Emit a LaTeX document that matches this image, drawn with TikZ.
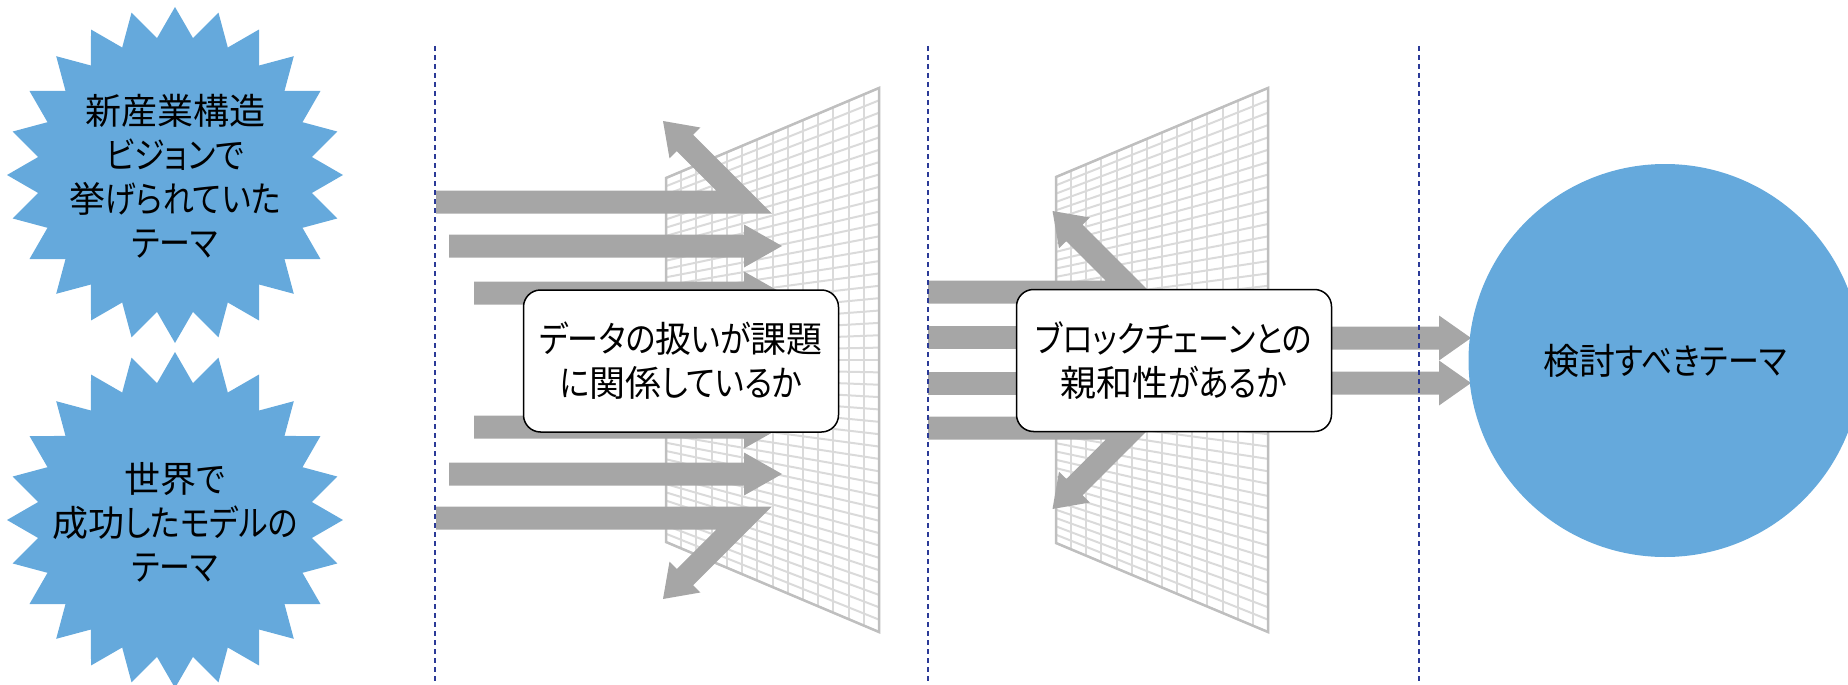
\documentclass[tikz,border=0pt]{standalone}
\usepackage{fontspec}
\setmainfont{Noto Sans CJK JP}[RawFeature=+palt]
\definecolor{burstblue}{HTML}{65A9DC}
\definecolor{arrowgray}{HTML}{A6A6A6}
\definecolor{meshin}{HTML}{DADADA}
\definecolor{meshout}{HTML}{BFBFBF}
\definecolor{sepblue}{HTML}{2B3A97}
\newcommand\kn[1]{\scalebox{0.86}[1]{#1}}
\newcommand\blockarrow[5]{% x0, head base, tip, centre y, head half width
  \fill[arrowgray] (#1,{#4-11.5}) -- (#2,{#4-11.5}) -- (#2,{#4-#5}) -- (#3,#4)
    -- (#2,{#4+#5}) -- (#2,{#4+11.5}) -- (#1,{#4+11.5}) -- cycle;}
\newcommand\meshwall[6]{% xl, xr, ytl, ybl, ytr, ybr
  \foreach \i in {0,...,14} {
    \draw[meshinner] ({#1+\i/14*(#2-#1)},{#3+\i/14*(#5-#3)}) -- ({#1+\i/14*(#2-#1)},{#4+\i/14*(#6-#4)});
  }
  \foreach \j in {0,...,44} {
    \draw[meshinner] (#1,{#3+\j/44*(#4-#3)}) -- (#2,{#5+\j/44*(#6-#5)});
  }
  \draw[meshborder] (#1,#3) -- (#2,#5) -- (#2,#6) -- (#1,#4) -- cycle;}
\begin{document}
\begin{tikzpicture}[x=1pt,y=-1pt,
  jtext/.style={font=\fontsize{36}{44}\selectfont, align=center, text=black},
  bursttext/.style={jtext, inner sep=0pt},
  filterbox/.style={jtext, draw=black, line width=1.5pt, fill=white, rounded corners=17pt,
     minimum width=315pt, minimum height=142pt, inner sep=0pt},
  goalcircle/.style={jtext, circle, fill=burstblue, minimum size=393pt, inner sep=0pt},
  meshinner/.style={draw=meshin, line width=2pt},
  meshborder/.style={draw=meshout, line width=2.5pt, line join=miter},
  sepline/.style={draw=sepblue, line width=2pt, dash pattern=on 5pt off 4pt}]
\useasboundingbox (0,0) rectangle (1848,685);
\clip (0,0) rectangle (1848,685);

% starbursts
\fill[burstblue] plot[samples at={0,...,47}, variable=\k]
  ({175+(168-30*mod(\k,2))*cos(90+7.5*\k)},{175-(168-30*mod(\k,2))*sin(90+7.5*\k)}) -- cycle;
\fill[burstblue] plot[samples at={0,...,47}, variable=\k]
  ({175+(168-30*mod(\k,2))*cos(90+7.5*\k)},{520-(168-30*mod(\k,2))*sin(90+7.5*\k)}) -- cycle;
\node[bursttext] (b1) at (175,176) {新産業構造\\\kn{ビジョンで}\\挙\kn{げられていた}\\\kn{テーマ}};
\node[bursttext] (b2) at (175,522) {世界\kn{で}\\成功\kn{したモデルの}\\\kn{テーマ}};

% mesh walls
\meshwall{666}{879}{178}{542}{88}{632}
\meshwall{1056}{1268}{177}{543}{88}{632}

% section 1 arrows
\fill[arrowgray] (436,190.5) -- (716.24,190.5) -- (676.79,151.05) -- (669.51,158.34) -- (663,121)
  -- (700.34,127.5) -- (693.05,134.79) -- (771.76,213.5) -- (436,213.5) -- cycle;
\fill[arrowgray] (436,529.5) -- (716.24,529.5) -- (676.79,568.95) -- (669.51,561.66) -- (663,599)
  -- (700.34,592.5) -- (693.05,585.21) -- (771.76,506.5) -- (436,506.5) -- cycle;
\blockarrow{449}{744}{782}{246}{21.5}
\blockarrow{474}{744}{782}{293}{21.5}
\blockarrow{474}{744}{782}{427}{21.5}
\blockarrow{449}{744}{782}{474}{21.5}

% section 2 arrows
\fill[arrowgray] (928,280.5) -- (1105.74,280.5) -- (1066.29,241.05) -- (1059.01,248.34) -- (1052.5,211)
  -- (1089.84,217.5) -- (1082.55,224.79) -- (1161.26,303.5) -- (928,303.5) -- cycle;
\fill[arrowgray] (928,439.5) -- (1105.74,439.5) -- (1066.29,478.95) -- (1059.01,471.66) -- (1052.5,509)
  -- (1089.84,502.5) -- (1082.55,495.21) -- (1161.26,416.5) -- (928,416.5) -- cycle;
\fill[arrowgray] (928,325.5) rectangle (1200,348.5);
\fill[arrowgray] (928,371.5) rectangle (1200,394.5);

% section 3 arrows
\blockarrow{1300}{1439}{1471}{338}{22.5}
\blockarrow{1300}{1439}{1471}{383}{22.5}

% filter boxes and goal
\node[filterbox] (f1) at (681,361) {\kn{データの}扱\kn{いが}課題\\\kn{に}関係\kn{しているか}};
\node[filterbox] (f2) at (1174,360.5) {\kn{ブロックチェーンとの}\\親和性\kn{があるか}};
\node[goalcircle] (goal) at (1665,360.5) {検討\kn{すべきテーマ}};

% separators
\coordinate (s1t) at (435,46); \coordinate (s1b) at (435,685);
\coordinate (s2t) at (927.5,46); \coordinate (s2b) at (927.5,685);
\coordinate (s3t) at (1419,46); \coordinate (s3b) at (1419,685);
\draw[sepline] (s1t) -- (s1b);
\draw[sepline] (s2t) -- (s2b);
\draw[sepline] (s3t) -- (s3b);
\end{tikzpicture}
\end{document}
